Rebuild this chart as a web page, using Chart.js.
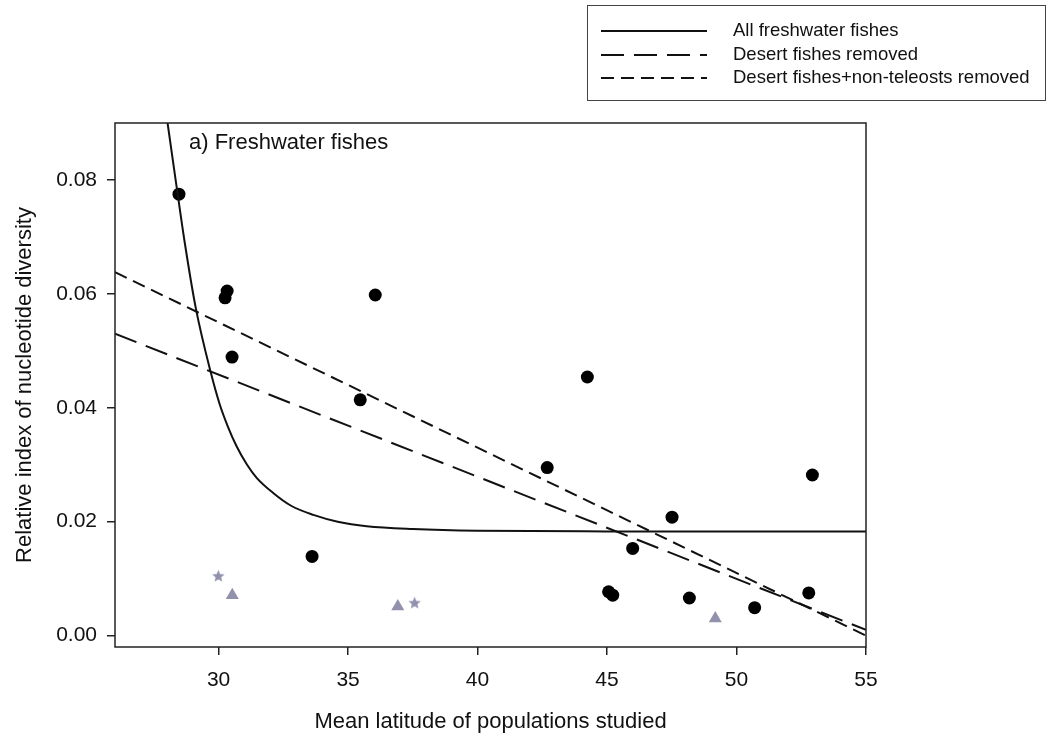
<!DOCTYPE html>
<html>
<head>
<meta charset="utf-8">
<script src="https://cdn.jsdelivr.net/npm/chart.js"></script>
<style>
  html, body { margin: 0; padding: 0; background: #fff; }
</style>
</head>
<body>
<canvas id="chartDiv" width="1052" height="740"></canvas>
<script>
// black dots: all freshwater fish studies
const fishLat = [28.47, 30.25, 30.33, 30.52, 33.61, 35.47, 36.05, 42.69, 44.24, 45.06, 45.22, 45.99, 47.51, 48.18, 50.70, 52.79, 52.93];
const fishDiv = [0.0775, 0.0593, 0.0605, 0.0489, 0.0139, 0.0414, 0.0598, 0.0295, 0.0454, 0.0077, 0.0071, 0.0153, 0.0208, 0.0066, 0.0049, 0.0075, 0.0282];
// grey triangles and stars
const triLat = [30.53, 36.92, 49.18];
const triDiv = [0.0071, 0.0051, 0.0030];
const starLat = [29.99, 37.57];
const starDiv = [0.0104, 0.0057];
// fitted curve / lines
const allLat = [27.93, 28.03, 28.42, 28.70, 29.12, 29.71, 30.03, 30.35, 30.70, 31.1, 31.47, 32.12, 32.8, 33.66, 34.6, 35.72, 37.5, 40, 45, 50, 55];
const allFit = [0.0935, 0.0900, 0.0775, 0.0688, 0.0575, 0.0460, 0.0408, 0.0368, 0.0332, 0.0300, 0.0277, 0.0250, 0.0228, 0.0212, 0.0200, 0.0192, 0.0187, 0.0184, 0.0183, 0.0183, 0.0183];
const desertLat = [26, 55];
const desertFit = [0.0530, 0.0010];
const teleLat = [26, 55];
const teleFit = [0.0638, 0.0000];

const xTicks = [30, 35, 40, 45, 50, 55];
const yTicks = [0.00, 0.02, 0.04, 0.06, 0.08];
const lineLabels = ["All freshwater fishes", "Desert fishes removed", "Desert fishes+non-teleosts removed"];
const panelLabel = "a) Freshwater fishes";
const xTitle = "Mean latitude of populations studied";
const yTitle = "Relative index of nucleotide diversity";

const FONT = "'Liberation Sans', Arial, Helvetica, sans-serif";
const GREY = "#9191ad";

function pts(xs, ys) {
  return xs.map((x, i) => ({ x: x, y: ys[i] }));
}

function makeStar(r, color) {
  const c = document.createElement("canvas");
  c.width = c.height = Math.ceil(r * 2) + 2;
  const g = c.getContext("2d");
  const cx = c.width / 2, cy = c.height / 2;
  g.beginPath();
  for (let i = 0; i < 10; i++) {
    const rr = i % 2 ? r * 0.45 : r;
    const a = -Math.PI / 2 + i * Math.PI / 5;
    g.lineTo(cx + rr * Math.cos(a), cy + rr * Math.sin(a));
  }
  g.closePath();
  g.fillStyle = color;
  g.fill();
  return c;
}

// frame, panel label and legend box
const framePlugin = {
  id: "frame",
  afterDraw(chart) {
    const ctx = chart.ctx;
    const a = chart.chartArea;
    ctx.save();
    ctx.strokeStyle = "#222";
    ctx.lineWidth = 1.5;
    ctx.setLineDash([]);
    ctx.strokeRect(a.left, a.top, a.right - a.left, a.bottom - a.top);

    ctx.fillStyle = "#111";
    ctx.font = "22px " + FONT;
    ctx.textBaseline = "middle";
    ctx.textAlign = "left";
    ctx.fillText(panelLabel, a.left + 74, a.top + 20);

    // legend
    ctx.lineWidth = 1;
    ctx.strokeStyle = "#444";
    ctx.strokeRect(587.5, 5.5, 458, 95);
    const lines = chart.data.datasets.filter(d => d.showLine);
    const rows = [31, 55, 78];
    ctx.font = "18.5px " + FONT;
    lines.forEach((d, i) => {
      ctx.beginPath();
      ctx.setLineDash(d.borderDash || []);
      ctx.lineWidth = 2;
      ctx.strokeStyle = "#111";
      ctx.moveTo(601, rows[i]);
      ctx.lineTo(707, rows[i]);
      ctx.stroke();
      ctx.fillText(d.label, 733, rows[i]);
    });
    ctx.restore();
  }
};

const chart = new Chart(document.getElementById("chartDiv"), {
  type: "scatter",
  data: {
    datasets: [
      {
        label: lineLabels[0],
        data: pts(allLat, allFit),
        showLine: true,
        borderColor: "#111",
        borderWidth: 2,
        pointRadius: 0,
        cubicInterpolationMode: "monotone",
        borderDash: [],
      },
      {
        label: lineLabels[1],
        data: pts(desertLat, desertFit),
        showLine: true,
        borderColor: "#111",
        borderWidth: 2,
        pointRadius: 0,
        borderDash: [23, 10],
      },
      {
        label: lineLabels[2],
        data: pts(teleLat, teleFit),
        showLine: true,
        borderColor: "#111",
        borderWidth: 2,
        pointRadius: 0,
        borderDash: [13, 7],
      },
      {
        label: "fishes",
        data: pts(fishLat, fishDiv),
        pointRadius: 6.5,
        pointBackgroundColor: "#000",
        pointBorderWidth: 0,
      },
      {
        label: "triangles",
        data: pts(triLat, triDiv),
        pointStyle: "triangle",
        pointRadius: 7.5,
        pointBackgroundColor: GREY,
        pointBorderColor: GREY,
        pointBorderWidth: 0,
      },
      {
        label: "stars",
        data: pts(starLat, starDiv),
        pointStyle: makeStar(6.5, GREY),
        pointRadius: 6.5,
      },
    ],
  },
  options: {
    responsive: false,
    animation: false,
    events: [],
    layout: { padding: { top: 123, right: 186, bottom: 0, left: 0 } },
    plugins: {
      legend: { display: false },
      tooltip: { enabled: false },
    },
    scales: {
      x: {
        type: "linear",
        min: 26,
        max: 55,
        afterBuildTicks: (s) => { s.ticks = xTicks.map(v => ({ value: v })); },
        afterFit: (s) => { s.height = 93; },
        ticks: {
          color: "#111",
          font: { family: FONT, size: 21 },
          padding: 13,
          callback: (v) => String(v),
        },
        grid: { drawOnChartArea: false, tickLength: 8, color: "#222", lineWidth: 1.5 },
        border: { display: false },
        title: {
          display: true,
          text: xTitle,
          color: "#111",
          font: { family: FONT, size: 22 },
          padding: { top: 0, bottom: 5 },
        },
      },
      y: {
        type: "linear",
        min: -0.002,
        max: 0.09,
        afterBuildTicks: (s) => { s.ticks = yTicks.map(v => ({ value: v })); },
        afterFit: (s) => { s.width = 115; },
        ticks: {
          color: "#111",
          font: { family: FONT, size: 21 },
          padding: 10,
          callback: (v) => v.toFixed(2),
        },
        grid: { drawOnChartArea: false, tickLength: 8, color: "#222", lineWidth: 1.5 },
        border: { display: false },
        title: {
          display: true,
          text: yTitle,
          color: "#111",
          font: { family: FONT, size: 22 },
          padding: { top: 12, bottom: 0 },
        },
      },
    },
  },
  plugins: [framePlugin],
});
</script>
</body>
</html>
